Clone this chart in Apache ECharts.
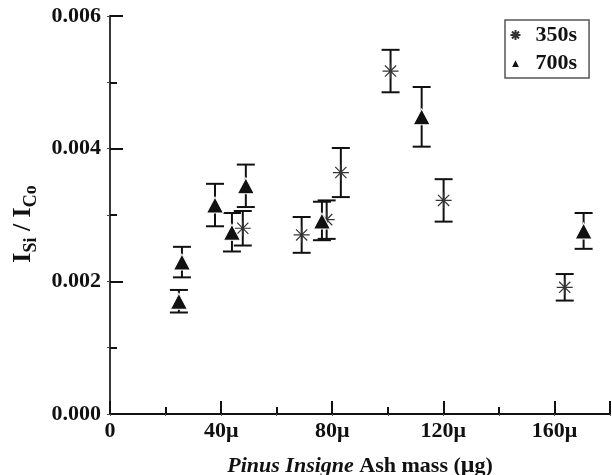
<!DOCTYPE html>
<html><head><meta charset="utf-8">
<script src="https://cdn.jsdelivr.net/npm/echarts@6/dist/echarts.min.js"></script>
<style>html,body{margin:0;padding:0;background:#fff}#c{width:612px;height:475px}</style>
</head><body><div id="c"></div>
<script>
// ---- data ----
const seriesNames = ['350s', '700s'];
const x350 = [47.8, 69, 78, 83.1, 101, 120.1, 163.7];
const y350 = [0.0028, 0.0027, 0.00293, 0.00364, 0.00517, 0.00322, 0.00191];
const e350 = [0.00026, 0.00027, 0.00029, 0.00037, 0.00032, 0.00032, 0.0002];
const x700 = [24.8, 25.9, 37.8, 43.9, 48.9, 76.3, 112.2, 170.5];
const y700 = [0.0017, 0.00229, 0.00315, 0.00274, 0.00344, 0.00291, 0.00448, 0.00276];
const e700 = [0.00017, 0.00023, 0.00032, 0.00029, 0.00032, 0.00029, 0.00045, 0.00027];
const xTickLabels = ['0', '40μ', '80μ', '120μ', '160μ'];
const xTickValues = [0, 40, 80, 120, 160];

const FONT = 'Liberation Serif';
const INK = '#111';
const ASTER = 'path://M10,0L10,20M0,10L20,10M3,3L17,17M3,17L17,3';
const TRI = 'path://M0,-1L1,1L-1,1Z';

function errSeries(xs, ys, es, name) {
  return {
    type: 'custom', name: name, silent: true, z: 2,
    xAxisIndex: 0, yAxisIndex: 0,
    data: xs.map((x, i) => [x, ys[i] - es[i], ys[i] + es[i]]),
    encode: { x: 0, y: [1, 2] },
    renderItem: function (params, api) {
      const lo = api.coord([api.value(0), api.value(1)]);
      const hi = api.coord([api.value(0), api.value(2)]);
      const hw = 9;
      const style = { stroke: INK, lineWidth: 2 };
      return { type: 'group', children: [
        { type: 'line', shape: { x1: lo[0], y1: lo[1], x2: hi[0], y2: hi[1] }, style: style },
        { type: 'line', shape: { x1: lo[0] - hw, y1: lo[1], x2: lo[0] + hw, y2: lo[1] }, style: style },
        { type: 'line', shape: { x1: hi[0] - hw, y1: hi[1], x2: hi[0] + hw, y2: hi[1] }, style: style }
      ]};
    }
  };
}

const axisLine = { show: true, lineStyle: { color: INK, width: 2 } };
const labelStyle = { fontFamily: FONT, fontWeight: 'bold', fontSize: 22, color: INK };

function tickAxis(pos, min, max, interval, len, color, width) {
  return { type: 'value', position: pos, min: min, max: max, interval: interval,
    axisLine: { show: false },
    axisTick: { show: true, inside: true, length: len, lineStyle: { color: color, width: width } },
    axisLabel: { show: false }, splitLine: { show: false } };
}

const chart = echarts.init(document.getElementById('c'), null, { renderer: 'canvas' });
chart.setOption({
  animation: false,
  backgroundColor: '#fff',
  grid: { left: 110, right: 2, top: 16, bottom: 61, containLabel: false, outerBoundsMode: 'none' },
  legend: {
    data: seriesNames, orient: 'vertical', left: 505, top: 20,
    padding: [4, 12, 4, 3], itemWidth: 30, itemHeight: 10, itemGap: 6,
    borderColor: '#555', borderWidth: 1.5, symbolKeepAspect: true,
    textStyle: { fontFamily: FONT, fontSize: 22, fontWeight: 'bold', color: INK }
  },
  xAxis: [
    { type: 'value', position: 'bottom', min: 0, max: 180, interval: 40,
      name: '{it|Pinus Insigne} {b|Ash mass (}{mu|μ}{b|g)}',
      nameLocation: 'middle', nameGap: 40,
      nameTextStyle: { fontFamily: FONT, fontSize: 22, fontWeight: 'bold', color: INK,
        rich: {
          it: { fontFamily: FONT, fontSize: 22, fontWeight: 'bold', fontStyle: 'italic', color: INK },
          b: { fontFamily: FONT, fontSize: 22, fontWeight: 'bold', color: INK },
          mu: { fontFamily: FONT, fontSize: 24, fontWeight: 'bold', color: INK }
        } },
      axisLine: axisLine,
      axisTick: { show: false },
      axisLabel: Object.assign({ margin: 6, showMaxLabel: false,
        formatter: function (v) { const i = xTickValues.indexOf(v); return i >= 0 ? xTickLabels[i] : ''; } }, labelStyle),
      splitLine: { show: false } },
    tickAxis('bottom', 0, 180, 40, 13, INK, 2),
    tickAxis('bottom', 0, 180, 20, 7, INK, 2),
    Object.assign(tickAxis('top', 0, 180, 20, 2, '#555', 1), { axisLine: axisLine })
  ],
  yAxis: [
    { type: 'value', position: 'left', min: 0, max: 0.006, interval: 0.002,
      name: '{m|I}{s|Si}{m| / I}{s|Co}',
      nameLocation: 'middle', nameRotate: 90, nameGap: 66,
      nameTextStyle: { fontFamily: FONT, fontWeight: 'bold', color: INK, padding: [0, 18, 0, 0],
        rich: {
          m: { fontFamily: FONT, fontSize: 26, fontWeight: 'bold', color: INK, lineHeight: 34, verticalAlign: 'middle' },
          s: { fontFamily: FONT, fontSize: 18, fontWeight: 'bold', color: INK, verticalAlign: 'bottom' }
        } },
      axisLine: axisLine,
      axisTick: { show: false },
      axisLabel: Object.assign({ margin: 9, formatter: function (v) { return v.toFixed(3); } }, labelStyle),
      splitLine: { show: false } },
    tickAxis('left', 0, 0.006, 0.002, 13, INK, 2),
    tickAxis('left', 0, 0.006, 0.001, 7, INK, 2),
    Object.assign(tickAxis('right', 0, 0.006, 0.001, 3, '#444', 1),
      { axisLine: { show: true, lineStyle: { color: '#444', width: 1.5 } } })
  ],
  series: [
    errSeries(x350, y350, e350, 'err350'),
    errSeries(x700, y700, e700, 'err700'),
    { type: 'scatter', name: seriesNames[0], z: 3, xAxisIndex: 0, yAxisIndex: 0,
      symbol: ASTER, symbolSize: 16,
      itemStyle: { color: 'none', borderColor: '#333', borderWidth: 1.2, opacity: 1 },
      data: x350.map((x, i) => [x, y350[i]]) },
    { type: 'scatter', name: seriesNames[1], z: 3, xAxisIndex: 0, yAxisIndex: 0,
      symbol: TRI, symbolSize: [17, 16],
      itemStyle: { color: INK, borderColor: '#fff', borderWidth: 1, opacity: 1 },
      data: x700.map((x, i) => [x, y700[i]]) }
  ]
});
</script>
</body></html>
